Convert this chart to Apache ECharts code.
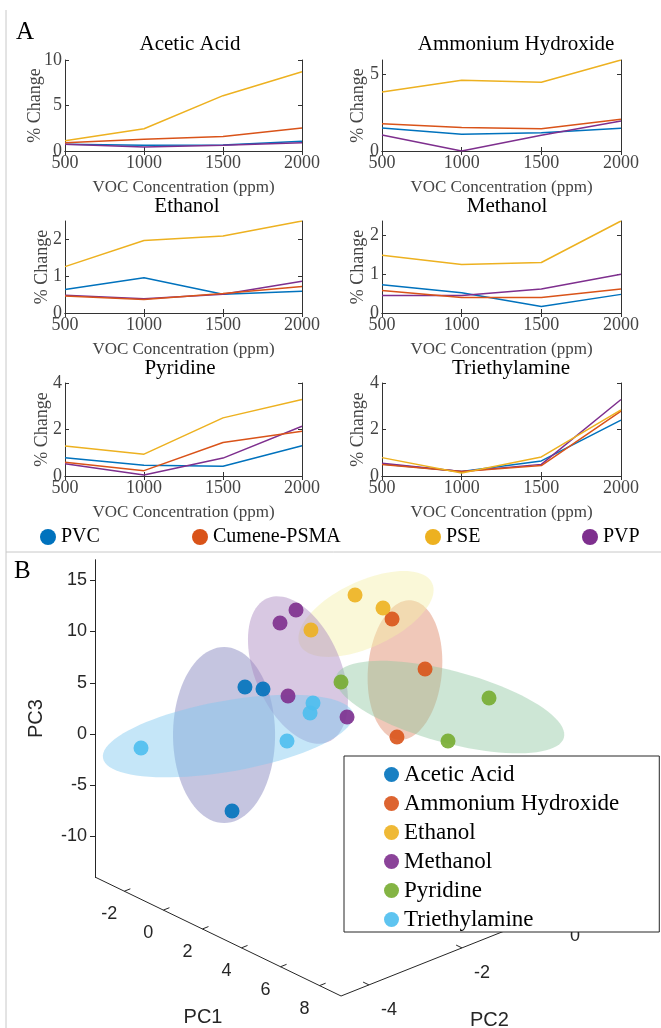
<!DOCTYPE html>
<html>
<head>
<meta charset="utf-8">
<script src="https://cdn.jsdelivr.net/npm/echarts@6/dist/echarts.min.js"></script>
<style>
html, body { margin: 0; padding: 0; background: #fff; }
#main { width: 661px; height: 1028px; }
</style>
</head>
<body>
<div id="main"></div>
<script>
// ---------- panel A data ----------
var conc = [500, 1000, 1500, 2000];
var concTicks = [500, 1000, 1500, 2000];
var polymers = ['PVC', 'Cumene-PSMA', 'PSE', 'PVP'];
var polyColors = ['#0072BD', '#D95319', '#EDB120', '#7E2F8E'];

// % change, one row per polymer (PVC, Cumene-PSMA, PSE, PVP)
var aceticAcid = [[0.73, 0.64, 0.66, 1.06], [0.9, 1.28, 1.6, 2.53], [1.13, 2.45, 6.08, 8.7], [0.75, 0.44, 0.63, 0.92]];
var ammoniumHydroxide = [[1.49, 1.08, 1.19, 1.47], [1.77, 1.52, 1.45, 2.06], [3.83, 4.59, 4.46, 5.9], [1.04, 0, 1.02, 1.95]];
var ethanol = [[0.64, 0.96, 0.51, 0.59], [0.46, 0.37, 0.53, 0.72], [1.26, 1.97, 2.09, 2.5], [0.48, 0.39, 0.51, 0.86]];
var methanol = [[0.73, 0.52, 0.17, 0.48], [0.58, 0.4, 0.4, 0.62], [1.49, 1.25, 1.3, 2.37], [0.45, 0.45, 0.62, 1.0]];
var pyridine = [[0.79, 0.46, 0.42, 1.3], [0.59, 0.23, 1.44, 1.92], [1.29, 0.94, 2.5, 3.29], [0.53, 0.04, 0.77, 2.14]];
var triethylamine = [[0.52, 0.19, 0.65, 2.4], [0.49, 0.19, 0.45, 2.79], [0.79, 0.13, 0.82, 2.84], [0.55, 0.19, 0.5, 3.29]];

var analytes = ['Acetic Acid', 'Ammonium Hydroxide', 'Ethanol', 'Methanol', 'Pyridine', 'Triethylamine'];
var analyteData = [aceticAcid, ammoniumHydroxide, ethanol, methanol, pyridine, triethylamine];
var yMax = [10, 5.9, 2.5, 2.37, 4, 4];
var yTicks = [[0, 5, 10], [0, 5], [0, 1, 2], [0, 1, 2], [0, 2, 4], [0, 2, 4]];

// ---------- panel B data ----------
// points as seen in the 3-D view, projected on the view plane (PC3 units)
var aceticPts = [[14.63, 4.59], [16.39, 4.39], [13.37, -7.51]];
var ammoniumPts = [[28.98, 11.22], [32.2, 6.34], [29.46, -0.29]];
var ethanolPts = [[21.07, 10.15], [25.37, 13.56], [28.1, 12.29]];
var methanolPts = [[18.05, 10.83], [19.61, 12.1], [18.83, 3.71], [24.59, 1.66]];
var pyridinePts = [[24.0, 5.07], [38.44, 3.51], [34.44, -0.68]];
var triethylPts = [[4.49, -1.37], [18.73, -0.68], [21.27, 3.02], [20.98, 2.05]];

var compounds = ['Acetic Acid', 'Ammonium Hydroxide', 'Ethanol', 'Methanol', 'Pyridine', 'Triethylamine'];
var compoundPts = [aceticPts, ammoniumPts, ethanolPts, methanolPts, pyridinePts, triethylPts];
var compoundColors = ['#0072BD', '#D95319', '#EDB120', '#7E2F8E', '#77AC30', '#4DBEEE'];

// confidence ellipses: centre x, centre y, semi-axis a, semi-axis b, angle (deg)
var ellipses = [
  [12.59, -0.1, 8.59, 4.98, 90],
  [30.24, 6.24, 6.83, 3.61, 85],
  [26.44, 11.71, 7.12, 3.22, 25],
  [19.8, 6.24, 7.61, 4.2, -67],
  [34.63, 2.63, 11.51, 3.51, -15],
  [12.98, -0.2, 12.39, 3.46, 10]
];
var ellipseColors = ['rgba(126,126,186,0.45)', 'rgba(222,133,100,0.45)', 'rgba(244,240,168,0.45)',
  'rgba(169,133,190,0.45)', 'rgba(144,199,162,0.45)', 'rgba(126,199,239,0.45)'];

var pc3Ticks = [-10, -5, 0, 5, 10, 15];
var pc1Ticks = [-2, 0, 2, 4, 6, 8];
var pc2Ticks = [-4, -2, 0];
var pc1Range = [-3.5, 9.1];
var pc2Range = [-4.6, 0.6];

var serif = 'Liberation Serif, Times New Roman, serif';
var sans = 'Liberation Sans, Arial, sans-serif';
var axisGray = '#333';

var myChart = echarts.init(document.getElementById('main'));

// layout of the six small plots
var panelLayout = [
  {left: 65, top: 60, width: 237, height: 91, titleX: 190, titleY: 46, nameGap: 21},
  {left: 382, top: 60, width: 239, height: 91, titleX: 516, titleY: 46, nameGap: 15},
  {left: 65, top: 221, width: 237, height: 92, titleX: 187, titleY: 208, nameGap: 14},
  {left: 382, top: 221, width: 239, height: 92, titleX: 507, titleY: 208, nameGap: 15},
  {left: 65, top: 383, width: 237, height: 93, titleX: 180, titleY: 370, nameGap: 14},
  {left: 382, top: 383, width: 239, height: 93, titleX: 511, titleY: 370, nameGap: 15}
];

function plain(v) { return String(v); }

var grids = [], xAxes = [], yAxes = [], series = [], titles = [];

panelLayout.forEach(function (p, i) {
  grids.push({left: p.left, top: p.top, width: p.width, height: p.height});
  titles.push({
    text: analytes[i], left: p.titleX, top: p.titleY - 12, textAlign: 'center', padding: 0,
    textStyle: {fontFamily: serif, fontSize: 21, fontWeight: 'normal', color: '#000'}
  });
  var lineStyle = {color: axisGray, width: 1};
  // bottom and top x axes
  xAxes.push({
    gridIndex: i, type: 'value', min: 500, max: 2000, position: 'bottom',
    name: 'VOC Concentration (ppm)', nameLocation: 'middle', nameGap: 28,
    nameTextStyle: {fontFamily: serif, fontSize: 17, color: '#444'},
    axisLine: {show: true, lineStyle: lineStyle},
    axisTick: {inside: true, length: 4, lineStyle: lineStyle, customValues: concTicks},
    axisLabel: {fontFamily: serif, fontSize: 18, color: '#444', margin: 3, customValues: concTicks, formatter: plain},
    splitLine: {show: false}
  });
  xAxes.push({
    gridIndex: i, type: 'value', min: 500, max: 2000, position: 'top',
    axisLine: {show: true, lineStyle: lineStyle},
    axisTick: {inside: true, length: 4, lineStyle: lineStyle, customValues: concTicks},
    axisLabel: {show: false}, splitLine: {show: false}
  });
  // left and right y axes
  yAxes.push({
    gridIndex: i, type: 'value', min: 0, max: yMax[i], position: 'left',
    name: '% Change', nameLocation: 'middle', nameGap: p.nameGap, nameMoveOverlap: false,
    nameTextStyle: {fontFamily: serif, fontSize: 18, color: '#444'},
    axisLine: {show: true, lineStyle: lineStyle},
    axisTick: {inside: true, length: 4, lineStyle: lineStyle, customValues: yTicks[i]},
    axisLabel: {fontFamily: serif, fontSize: 18, color: '#444', margin: 3, customValues: yTicks[i], formatter: plain},
    splitLine: {show: false}
  });
  yAxes.push({
    gridIndex: i, type: 'value', min: 0, max: yMax[i], position: 'right',
    axisLine: {show: true, lineStyle: lineStyle},
    axisTick: {inside: true, length: 4, lineStyle: lineStyle, customValues: yTicks[i]},
    axisLabel: {show: false}, splitLine: {show: false}
  });
  analyteData[i].forEach(function (vals, j) {
    series.push({
      type: 'line', name: polymers[j], xAxisIndex: 2 * i, yAxisIndex: 2 * i,
      data: conc.map(function (c, k) { return [c, vals[k]]; }),
      symbol: 'none', silent: true, z: 3 + (j === 3 ? 0 : j),
      lineStyle: {color: polyColors[j], width: 1.5},
      itemStyle: {color: polyColors[j]}
    });
  });
});

// ---------- panel B: projected 3-D view ----------
var pxPerUnit = 10.25;
var bTop = 734 - 17 * pxPerUnit;
grids.push({left: 95, top: bTop, width: 566, height: 31 * pxPerUnit});
xAxes.push({
  gridIndex: 6, type: 'value', min: 0, max: 566 / pxPerUnit, show: false
});
yAxes.push({
  gridIndex: 6, type: 'value', min: -14, max: 17, position: 'left',
  name: 'PC3', nameLocation: 'middle', nameGap: 49,
  nameTextStyle: {fontFamily: sans, fontSize: 20, color: '#262626'},
  axisLine: {show: true, lineStyle: {color: '#262626', width: 1}},
  axisTick: {show: true, length: 5, customValues: pc3Ticks, lineStyle: {color: '#262626'}},
  axisLabel: {fontFamily: sans, fontSize: 18, color: '#262626', margin: 8, customValues: pc3Ticks, formatter: plain},
  splitLine: {show: false}
});

// floor of the 3-D box: PC1 runs toward the viewer, PC2 to the right
var u1 = [1.905, -0.921], u2 = [4.537, 1.805];
var floorO = [6.67, -17.18];
function floorPt(p1, p2) {
  var d2 = p2 - pc2Range[0];
  return [floorO[0] + p1 * u1[0] + d2 * u2[0], floorO[1] + p1 * u1[1] + d2 * u2[1]];
}

series.push({
  type: 'custom', name: 'floor', xAxisIndex: 12, yAxisIndex: 12, silent: true, clip: false, z: 1,
  data: [[0, 0]],
  renderItem: function (params, api) {
    var kids = [];
    var ls = {stroke: '#262626', lineWidth: 1};
    var ts = function (t, x, y) {
      return {type: 'text', style: {text: t, x: x, y: y, fill: '#262626', font: '18px ' + sans, align: 'center', verticalAlign: 'middle'}};
    };
    var a = api.coord(floorPt(pc1Range[0], pc2Range[0]));
    var c = api.coord(floorPt(pc1Range[1], pc2Range[0]));
    var e = api.coord(floorPt(pc1Range[1], pc2Range[1]));
    kids.push({type: 'line', shape: {x1: a[0], y1: a[1], x2: c[0], y2: c[1]}, style: ls});
    kids.push({type: 'line', shape: {x1: c[0], y1: c[1], x2: e[0], y2: e[1]}, style: ls});
    pc1Ticks.forEach(function (t) {
      var p = api.coord(floorPt(t, pc2Range[0]));
      var q = api.coord(floorPt(t, pc2Range[0] + 0.13));
      kids.push({type: 'line', shape: {x1: p[0], y1: p[1], x2: q[0], y2: q[1]}, style: ls});
      kids.push(ts(String(t), p[0] - 15, p[1] + 23));
    });
    pc2Ticks.forEach(function (t) {
      var p = api.coord(floorPt(pc1Range[1], t));
      var q = api.coord(floorPt(pc1Range[1] - 0.3, t));
      kids.push({type: 'line', shape: {x1: p[0], y1: p[1], x2: q[0], y2: q[1]}, style: ls});
      kids.push(ts(String(t), p[0] + 20, p[1] + 25));
    });
    var n1 = api.coord(floorPt(5, pc2Range[0]));
    var n2 = api.coord(floorPt(pc1Range[1], -3));
    var t1 = ts('PC1', n1[0] - 58, n1[1] + 60); t1.style.font = '20px ' + sans;
    var t2 = ts('PC2', n2[0] + 74, n2[1] + 54); t2.style.font = '20px ' + sans;
    kids.push(t1, t2);
    return {type: 'group', children: kids};
  }
});

series.push({
  type: 'custom', name: 'ellipses', xAxisIndex: 12, yAxisIndex: 12, silent: true, clip: false, z: 1,
  data: ellipses,
  encode: {x: 0, y: 1},
  renderItem: function (params, api) {
    var cx = api.value(0), cy = api.value(1), ea = api.value(2), eb = api.value(3);
    var rad = api.value(4) * Math.PI / 180;
    var pts = [];
    for (var k = 0; k < 90; k++) {
      var th = k / 90 * 2 * Math.PI;
      var x = ea * Math.cos(th), y = eb * Math.sin(th);
      pts.push(api.coord([cx + x * Math.cos(rad) - y * Math.sin(rad), cy + x * Math.sin(rad) + y * Math.cos(rad)]));
    }
    return {type: 'polygon', shape: {points: pts}, style: {fill: ellipseColors[params.dataIndex]}};
  }
});

compounds.forEach(function (name, i) {
  series.push({
    type: 'scatter', name: name, xAxisIndex: 12, yAxisIndex: 12, z: 3,
    data: compoundPts[i], symbolSize: 15, silent: true,
    itemStyle: {color: compoundColors[i], opacity: 0.9}
  });
});

// legends
var legends = [];
var legendLeft = [40, 192, 425, 582];
polymers.forEach(function (p, j) {
  legends.push({
    data: [p], left: legendLeft[j], top: 527, padding: 0, icon: 'circle',
    itemWidth: 16, itemHeight: 16, itemGap: 0, selectedMode: false,
    textStyle: {fontFamily: serif, fontSize: 20, color: '#000'}
  });
});
legends.push({
  data: compounds, orient: 'vertical', left: 344, top: 756, icon: 'circle',
  itemWidth: 15, itemHeight: 15, itemGap: 6, selectedMode: false,
  padding: [7, 40, 1, 40], borderColor: '#262626', borderWidth: 1, backgroundColor: '#fff',
  textStyle: {fontFamily: serif, fontSize: 23, color: '#000'}
});

var option = {
  animation: false,
  backgroundColor: '#fff',
  title: titles,
  grid: grids,
  xAxis: xAxes,
  yAxis: yAxes,
  legend: legends,
  series: series,
  graphic: [
    {type: 'line', shape: {x1: 6, y1: 10, x2: 6, y2: 1028}, style: {stroke: '#c8c8c8', lineWidth: 1}},
    {type: 'line', shape: {x1: 6, y1: 552, x2: 661, y2: 552}, style: {stroke: '#c8c8c8', lineWidth: 1}},
    {type: 'text', left: 16, top: 20, style: {text: 'A', font: '25px ' + serif, fill: '#000'}},
    {type: 'text', left: 14, top: 559, style: {text: 'B', font: '25px ' + serif, fill: '#000'}}
  ]
};

myChart.setOption(option);
</script>
</body>
</html>
